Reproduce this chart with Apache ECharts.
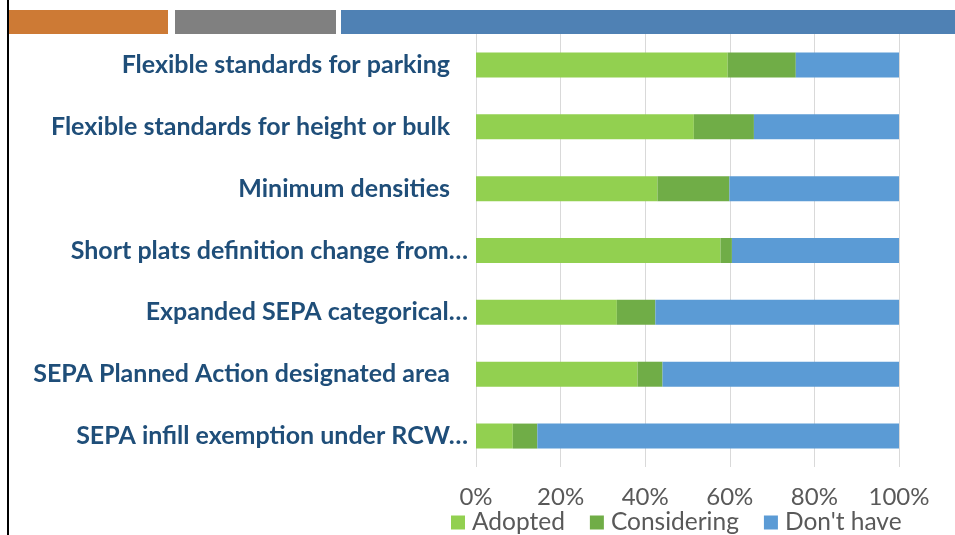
<!DOCTYPE html>
<html>
<head>
<meta charset="utf-8">
<script src="https://cdn.jsdelivr.net/npm/echarts@6/dist/echarts.min.js"></script>
<style>
  html, body { margin: 0; padding: 0; background: #fff; }
  #main { width: 955px; height: 535px; }
</style>
</head>
<body>
<div id="main"></div>
<script>
// categories, top to bottom (trailing space = label not cut off)
var categories = [
    'Flexible standards for parking ',
    'Flexible standards for height or bulk ',
    'Minimum densities ',
    'Short plats definition change from…',
    'Expanded SEPA categorical…',
    'SEPA Planned Action designated area ',
    'SEPA infill exemption under RCW…'
];
// percent of respondents
var adopted     = [59.5, 51.5, 42.9, 57.8, 33.3, 38.2, 8.7];
var considering = [16.1, 14.2, 17.0, 2.7, 9.1, 5.9, 5.8];
var dontHave    = [24.4, 34.3, 40.1, 39.5, 57.6, 55.9, 85.5];
var seriesNames = ['Adopted', 'Considering', "Don't have"];
var xTicks = [0, 20, 40, 60, 80, 100];

var myChart = echarts.init(document.getElementById('main'));

var option = {
    animation: false,
    backgroundColor: '#fff',
    color: ['#92D050', '#70AD47', '#5B9BD5'],
    graphic: [
        // slide decoration
        { type: 'rect', shape: { x: 7, y: 0, width: 2, height: 535 }, style: { fill: '#000' } },
        { type: 'rect', shape: { x: 9, y: 10, width: 159, height: 24 }, style: { fill: '#CD7A35' } },
        { type: 'rect', shape: { x: 175, y: 10, width: 161, height: 24 }, style: { fill: '#808080' } },
        { type: 'rect', shape: { x: 341, y: 10, width: 614, height: 24 }, style: { fill: '#4F81B4' } }
    ],
    legend: {
        data: seriesNames,
        left: 446,
        top: 505,
        icon: 'rect',
        itemWidth: 14,
        itemHeight: 14,
        itemGap: 25,
        textStyle: { fontFamily: 'Lato', fontSize: 24.5, color: '#595959', padding: [0, 0, 0, 2] }
    },
    grid: {
        left: 476,
        right: 56,
        top: 34,
        bottom: 68,
        containLabel: false
    },
    xAxis: {
        type: 'value',
        min: 0,
        max: 100,
        interval: 20,
        axisLine: { show: false },
        axisTick: { show: false },
        splitLine: { lineStyle: { color: '#D9D9D9', width: 1 } },
        axisLabel: {
            formatter: function (v) { return xTicks.indexOf(v) >= 0 ? v + '%' : ''; },
            margin: 18,
            fontFamily: 'Lato',
            fontSize: 24,
            color: '#595959'
        }
    },
    yAxis: {
        type: 'category',
        inverse: true,
        data: categories,
        axisLine: { show: false },
        axisTick: { show: false },
        axisLabel: {
            margin: 8,
            fontFamily: 'Lato',
            fontWeight: 'bold',
            fontSize: 25,
            color: '#1F4E79',
            formatter: function (v) {
                if (v.charAt(v.length - 1) === ' ') {
                    return '{p|' + v.trim() + '}';
                }
                return '{n|' + v + '}';
            },
            rich: {
                p: { fontFamily: 'Lato', fontWeight: 'bold', fontSize: 25, color: '#1F4E79', padding: [0, 18, 0, 0] },
                n: { fontFamily: 'Lato', fontWeight: 'bold', fontSize: 25, color: '#1F4E79' }
            }
        }
    },
    series: [
        { name: seriesNames[0], type: 'bar', stack: 'total', barWidth: 25, data: adopted },
        { name: seriesNames[1], type: 'bar', stack: 'total', barWidth: 25, data: considering },
        { name: seriesNames[2], type: 'bar', stack: 'total', barWidth: 25, data: dontHave }
    ]
};

myChart.setOption(option);
</script>
</body>
</html>
